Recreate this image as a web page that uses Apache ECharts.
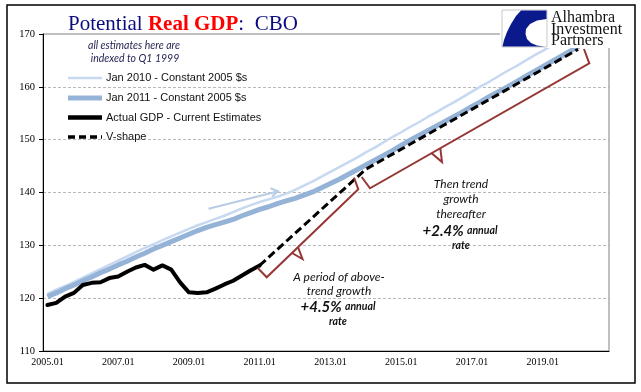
<!DOCTYPE html>
<html><head><meta charset="utf-8">
<script src="https://cdn.jsdelivr.net/npm/echarts@6/dist/echarts.min.js"></script>
<style>html,body{margin:0;padding:0;background:#fff}#c{width:641px;height:392px}</style>
</head><body><div id="c"></div>
<script>
// ---- categories (quarters 2005Q1 .. 2020Q4) ----
const years = [2005,2006,2007,2008,2009,2010,2011,2012,2013,2014,2015,2016,2017,2018,2019,2020];
const quarterSuffix = ['01','02','03','04'];
const categories = [];
years.forEach(y => quarterSuffix.forEach(q => categories.push(y + '.' + q)));

// ---- series values (index, 1999Q1 = 100) ----
const jan2010 = [120.8,121.6,122.3,123.1,123.9,124.7,125.5,126.3,127.1,127.9,128.7,129.5,130.2,131.0,131.7,132.4,
  133.1,133.8,134.4,135.0,135.6,136.3,137.0,137.6,138.2,138.7,139.2,139.8,140.5,141.3,142.1,143.0,
  143.9,144.8,145.7,146.6,147.6,148.5,149.5,150.5,151.4,152.4,153.3,154.3,155.2,156.2,157.1,158.1,
  159.1,160.1,161.0,162.0,163.0,163.9,164.9,165.9,166.8,167.8,168.8,169.7,170.7];
const jan2011 = [120.3,121.0,121.8,122.5,123.3,124.0,124.8,125.5,126.3,127.0,127.8,128.5,129.3,130.0,130.7,131.4,
  132.1,132.8,133.4,133.9,134.4,134.9,135.6,136.2,136.8,137.3,137.9,138.4,138.9,139.5,140.1,140.9,
  141.7,142.5,143.4,144.3,145.2,146.1,147.0,147.9,148.9,149.9,150.8,151.7,152.6,153.5,154.4,155.3,
  156.3,157.2,158.2,159.1,160.0,160.95,161.9,162.85,163.8,164.75,165.7,166.65,167.6,168.55,169.5,170.45];
const actualGDP = [118.7,119.1,120.3,121.0,122.5,122.9,123.0,123.8,124.1,125.0,125.8,126.3,125.4,126.2,125.4,123.0,
  121.1,121.0,121.1,121.8,122.6,123.3,124.3,125.3,126.2];
const vShapeCats = ['2011.01','2014.01','2020.01'];
const vShapeVals = [126.2,144.4,167.1];
const yTicks = [110,120,130,140,150,160,170];

const chart = echarts.init(document.getElementById('c'), null, {renderer:'canvas'});

const bracketColor = '#953735';
const annFont = 'Lato, "Noto Sans", sans-serif';

function txt(text, x, y, font, fill, align, z) {
  return {type:'text', z:z||50, style:{text:text, x:x, y:y, font:font, fill:fill||'#111', align:align||'center', verticalAlign:'middle'}};
}
function rtxt(big, small, x, y) {
  return {type:'text', z:50, style:{text:'{b|'+big+'} {s|'+small+'}', x:x, y:y, align:'center', verticalAlign:'middle',
    rich:{b:{font:'italic bold 15px '+annFont, fill:'#111'}, s:{font:'italic bold 10.5px '+annFont, fill:'#111'}}}};
}
function pl(points, color, w, dash) {
  return {type:'polyline', z:40, shape:{points:points}, style:{stroke:color, lineWidth:w, fill:null, lineDash:dash||null, lineJoin:'miter', lineCap:'butt'}};
}

const logoShape = [[521,10.5],[546.5,10.5],[546.5,19],[537,20.5],[530,24],[526,29],[525.5,34],[527,39],[531,43],[537,45.5],[545,46.5],
  [502.5,46.5],[504,40],[507,32],[511,24],[516,16]];

const logoFont = '16px "Liberation Serif", "Times New Roman", serif';
const legFont = '11px "Liberation Sans", Arial, sans-serif';

const graphics = [
  // outer frame
  {type:'rect', z:1, shape:{x:7,y:5,width:628,height:378}, style:{stroke:'#000', lineWidth:1.5, fill:null}},
  // note
  txt('all estimates here are', 134, 46, 'italic 10.5px '+annFont, '#1f2050'),
  txt('indexed to Q1 1999', 135, 59, 'italic 10.5px '+annFont, '#1f2050'),
  // legend
  pl([[68,78],[102,78]], '#C6D9F1', 2.5),
  pl([[68,98],[102,98]], '#95B3D7', 5),
  pl([[68,117.5],[102,117.5]], '#000', 4.5),
  pl([[68,137],[102,137]], '#000', 3.5, [7,4]),
  txt('Jan 2010 - Constant 2005 $s', 106, 78, legFont, '#111', 'left'),
  txt('Jan 2011 - Constant 2005 $s', 106, 98, legFont, '#111', 'left'),
  txt('Actual GDP - Current Estimates', 106, 117.5, legFont, '#111', 'left'),
  txt('V-shape', 106, 137, legFont, '#111', 'left'),
  // arrow
  pl([[208.5,208.8],[277.5,191.5]], '#B8CCE4', 2),
  pl([[270.5,188.3],[278,191.3],[272,196.5]], '#B8CCE4', 2),
  // lower bracket
  pl([[257.7,268],[266.7,277.3],[358.3,189.3],[354,177.5]], bracketColor, 2),
  pl([[292,253],[302.5,259],[298,247.2]], bracketColor, 2),
  // upper bracket
  pl([[361.7,177],[370,188.3],[589.3,63.3],[584,49]], bracketColor, 2),
  pl([[431.7,153.2],[442,162],[440.3,148.2]], bracketColor, 2),
  // annotations
  txt('A period of above-', 339, 277, 'italic 12px '+annFont),
  txt('trend growth', 339, 291, 'italic 12px '+annFont),
  rtxt('+4.5%', 'annual', 338, 307),
  txt('rate', 338, 322, 'italic bold 10.5px '+annFont),
  txt('Then trend', 461, 184, 'italic 12px '+annFont),
  txt('growth', 461, 199, 'italic 12px '+annFont),
  txt('thereafter', 461, 214, 'italic 12px '+annFont),
  rtxt('+2.4%', 'annual', 460, 231),
  txt('rate', 461, 246, 'italic bold 10.5px '+annFont),
  // logo
  {type:'rect', z:60, shape:{x:500,y:7,width:128,height:41}, style:{fill:'#fff', stroke:null}},
  {type:'rect', z:61, shape:{x:502,y:10,width:45,height:37}, style:{fill:'#fff', stroke:'#c8c8c8', lineWidth:1}},
  {type:'polygon', z:62, shape:{points:logoShape}, style:{fill:'#0a1a8c'}},
  txt('Alhambra', 551, 18, logoFont, '#111', 'left', 63),
  txt('Investment', 551, 29.5, logoFont, '#111', 'left', 63),
  txt('Partners', 551, 41, logoFont, '#111', 'left', 63)
];

const serif = '"Liberation Serif", "Times New Roman", serif';
const option = {
  animation:false,
  backgroundColor:'#fff',
  title:{
    text:'{a|Potential }{b|Real GDP}{a|:  CBO}',
    left:63, top:9,
    textStyle:{fontWeight:'normal', rich:{
      a:{fontFamily:serif, fontSize:21, fontWeight:'normal', color:'#0c0c80'},
      b:{fontFamily:serif, fontSize:21, fontWeight:'bold', color:'#ff0000'}
    }}
  },
  grid:{left:43, right:32, top:34, bottom:41, show:true, borderColor:'#808080', borderWidth:1, backgroundColor:'transparent'},
  xAxis:{
    type:'category', data:categories, boundaryGap:true,
    axisLine:{lineStyle:{color:'#000', width:1}},
    axisTick:{interval:7, length:4, lineStyle:{color:'#000'}},
    axisLabel:{interval:7, fontFamily:serif, fontSize:10, color:'#000', margin:6},
    splitLine:{show:false}
  },
  yAxis:{
    type:'value', min:yTicks[0], max:yTicks[yTicks.length-1], interval:10,
    axisLine:{show:true, lineStyle:{color:'#000', width:1}},
    axisTick:{show:true, length:4, lineStyle:{color:'#000'}},
    axisLabel:{fontFamily:serif, fontSize:10.5, color:'#000', margin:8},
    splitLine:{show:true, showMinLine:false, showMaxLine:false, lineStyle:{color:'#a6a6a6', type:[3,2], width:0.8}}
  },
  series:[
    {name:'Jan 2010 - Constant 2005 $s', type:'line', data:jan2010, symbol:'none', z:2, clip:true,
      lineStyle:{color:'#C6D9F1', width:2.5}},
    {name:'Jan 2011 - Constant 2005 $s', type:'line', data:jan2011, symbol:'none', z:3, clip:true,
      lineStyle:{color:'#95B3D7', width:5}},
    {name:'Actual GDP - Current Estimates', type:'line', data:actualGDP, symbol:'none', z:5, clip:true,
      lineStyle:{color:'#000', width:4, join:'round', cap:'round'}},
    {name:'V-shape', type:'line', data:vShapeCats.map((c,i)=>[c, vShapeVals[i]]), symbol:'none', z:4, clip:true,
      lineStyle:{color:'#000', width:3, type:[8,4]}}
  ],
  graphic:graphics
};
chart.setOption(option);
</script>
</body></html>
